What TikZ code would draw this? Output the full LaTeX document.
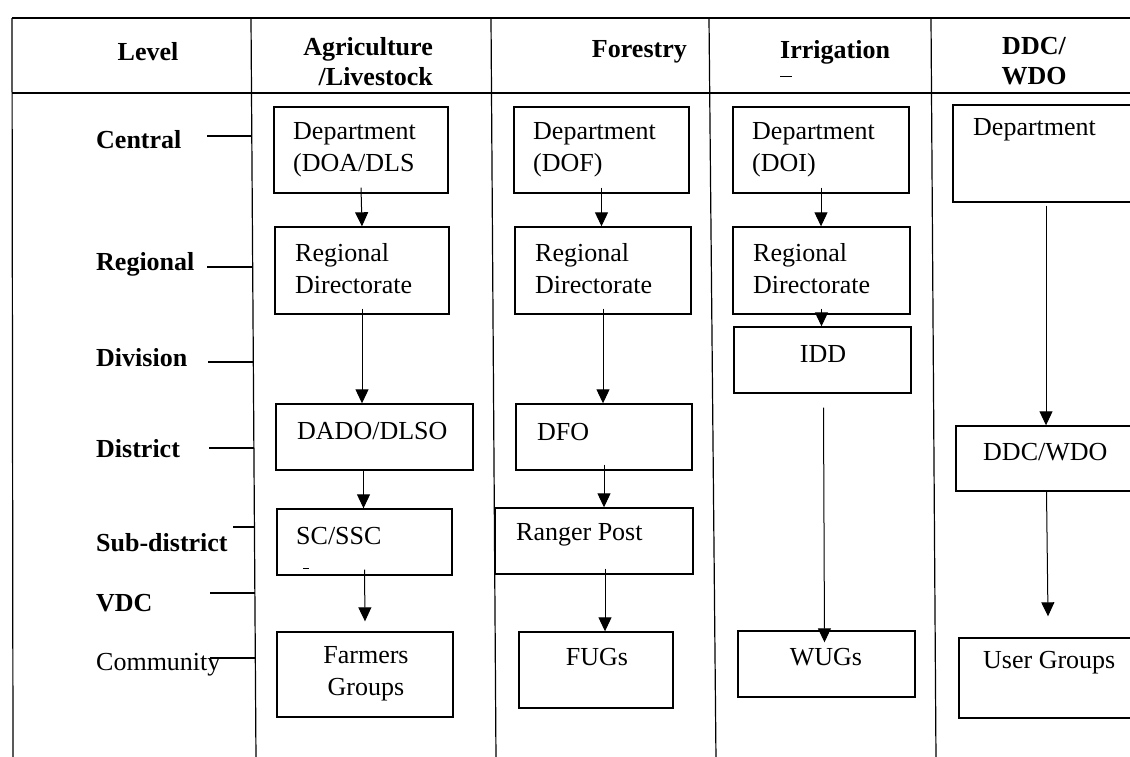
\documentclass[tikz,border=0pt]{standalone}
\usepackage{fontspec}
\setmainfont{Liberation Serif}
\usetikzlibrary{arrows.meta,fit}
\begin{document}
\begin{tikzpicture}[x=1pt,y=-1pt,
  tline/.style={line width=1.2pt},
  boxst/.style={draw,line width=1.4pt,inner sep=0pt},
  txt/.style={font=\fontsize{26}{32}\selectfont,inner sep=0pt,align=left},
  ctxt/.style={font=\fontsize{26}{32}\selectfont,inner sep=0pt,align=center},
  hdr/.style={font=\fontsize{26}{30}\selectfont\bfseries,inner sep=0pt},
  lbl/.style={font=\fontsize{26}{30}\selectfont\bfseries,inner sep=0pt,anchor=west},
  arr/.style={line width=1pt,-{Triangle[width=13pt,length=14pt]}},
]
\useasboundingbox (0,0) rectangle (1130,756);
% table frame
\draw[tline] (12,18) -- (1140,18);
\draw[tline] (12,93) -- (1140,93);
\draw[tline] (12,18) -- (13,760);
\draw[tline] (251,18) -- (256,760);
\draw[tline] (491,18) -- (496,760);
\draw[tline] (709,18) -- (716,760);
\draw[tline] (931,18) -- (936,760);
% headers
\node[hdr] (hLevel) at (148,52) {Level};
\node[hdr,align=right,anchor=north east,font=\fontsize{26}{30}\selectfont\bfseries] (hAgri) at (433,37) {Agriculture\\/Livestock};
\node[hdr,anchor=east] (hFor) at (687,52) {Forestry};
\node[hdr,anchor=west] (hIrr) at (780,52) {Irrigation};
\draw[line width=1pt] (780,76) -- (792,76);
\node[hdr,align=center,anchor=north,font=\fontsize{26}{30}\selectfont\bfseries] (hDDC) at (1034,37) {DDC/\\WDO};
% level labels
\node[lbl] (lCen) at (96,140) {Central};
\node[lbl] (lReg) at (96,264) {Regional};
\node[lbl] (lDiv) at (96,358) {Division};
\node[lbl] (lDis) at (96,449) {District};
\node[lbl] (lSub) at (96,543) {Sub-district};
\node[lbl] (lVDC) at (96,603) {VDC};
\node[lbl,font=\fontsize{26}{30}\selectfont] (lCom) at (96,665) {Community};
\draw[tline] (207,136) -- (252,136);
\draw[tline] (207,267) -- (252,267);
\draw[tline] (208,362) -- (253,362);
\draw[tline] (209,448) -- (254,448);
\draw[tline] (233,527) -- (254,527);
\draw[tline] (210,593) -- (255,593);
\draw[tline] (210,658) -- (255,658);
% Agriculture column
\node[boxst,fit={(274,107)(448,193)}] (A1) {};
\node[txt,anchor=west] (tA1) at (293,150) {Department\\(DOA/DLS};
\node[boxst,fit={(275,227)(449,314)}] (A2) {};
\node[txt,anchor=west] (tA2) at (295,269) {Regional\\Directorate};
\node[boxst,fit={(276,404)(473,470)}] (A3) {};
\node[txt,anchor=west] (tA3) at (297,431) {DADO/DLSO};
\node[boxst,fit={(277,509)(452,575)}] (A4) {};
\node[txt,anchor=west] (tA4) at (296,536) {SC/SSC};
\draw[line width=0.8pt] (303,568) -- (309,568);
\node[boxst,fit={(277,632)(453,717)}] (A5) {};
\node[ctxt] (tA5) at (366,674) {Farmers\\Groups};
\draw[arr] ([yshift=6pt]A1.south) -- (A2.north);
\draw[arr] ([yshift=6pt]A2.south) -- (A2.south |- A3.north);
\draw[arr] ([xshift=-11pt]A3.south) -- ([xshift=-11pt]A3.south |- A4.north);
\draw[arr] ([yshift=6pt]A4.south) -- ([yshift=10pt]A5.north);
% Forestry column
\node[boxst,fit={(514,107)(689,193)}] (F1) {};
\node[txt,anchor=west] (tF1) at (533,150) {Department\\(DOF)};
\node[boxst,fit={(515,227)(691,314)}] (F2) {};
\node[txt,anchor=west] (tF2) at (535,269) {Regional\\Directorate};
\node[boxst,fit={(516,404)(692,470)}] (F3) {};
\node[txt,anchor=west] (tF3) at (537,432) {DFO};
\node[boxst,fit={(495,508)(693,574)}] (F4) {};
\node[txt,anchor=west] (tF4) at (516,535) {Ranger Post};
\node[boxst,fit={(519,632)(673,708)}] (F5) {};
\node[txt] (tF5) at (597,657) {FUGs};
\draw[arr] ([yshift=6pt]F1.south) -- (F1.south |- F2.north);
\draw[arr] ([yshift=6pt]F2.south) -- (F2.south |- F3.north);
\draw[arr] ([yshift=6pt]F3.south) -- (F3.south |- F4.north);
\draw[arr] ([xshift=11pt,yshift=6pt]F4.south) -- ([xshift=11pt]F4.south |- F5.north);
% Irrigation column
\node[boxst,fit={(733,107)(909,193)}] (I1) {};
\node[txt,anchor=west] (tI1) at (752,150) {Department\\(DOI)};
\node[boxst,fit={(733,227)(910,314)}] (I2) {};
\node[txt,anchor=west] (tI2) at (753,269) {Regional\\Directorate};
\node[boxst,fit={(734,327)(911,393)}] (I3) {};
\node[txt] (tI3) at (823,354) {IDD};
\node[boxst,fit={(738,631)(915,697)}] (I4) {};
\node[txt] (tI4) at (826,657) {WUGs};
\draw[arr] ([yshift=6pt]I1.south) -- (I1.south |- I2.north);
\draw[arr] ([yshift=6pt]I2.south) -- (I2.south |- I3.north);
\draw[arr] ([xshift=1pt,yshift=-14pt]I3.south) -- ([xshift=-2pt,yshift=-12pt]I4.north);
% DDC/WDO column
\node[boxst,fit={(953,105)(1145,202)}] (D1) {};
\node[txt,anchor=west] (tD1) at (973,130) {Department};
\node[boxst,fit={(956,426)(1145,491)}] (D2) {};
\node[txt,anchor=west] (tD2) at (983,452) {DDC/WDO};
\node[boxst,fit={(959,638)(1145,718)}] (D3) {};
\node[txt,anchor=west] (tD3) at (983,663) {User Groups};
\draw[arr] ([xshift=-3pt,yshift=-3pt]D1.south) -- ([xshift=-3pt]D1.south |- D2.north);
\draw[arr] ([xshift=-4pt]D2.south) -- ([xshift=-4pt,yshift=21pt]D3.north);
\end{tikzpicture}
\end{document}
